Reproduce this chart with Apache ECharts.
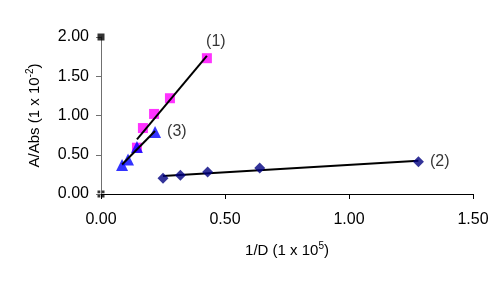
<!DOCTYPE html>
<html>
<head>
<meta charset="utf-8">
<script src="https://cdn.jsdelivr.net/npm/echarts@6/dist/echarts.min.js"></script>
<style>
    html, body { margin: 0; padding: 0; background: #fff; }
    #chart { width: 500px; height: 286px; }
</style>
</head>
<body>
<div id="chart"></div>
<script>
// 数据：1/D 与 A/Abs
const xTicks = [0, 0.5, 1.0, 1.5];
const yTicks = [0, 0.5, 1.0, 1.5, 2.0];

const s1X = [0.145, 0.169, 0.214, 0.278, 0.427];
const s1Y = [0.59, 0.84, 1.02, 1.22, 1.73];

const s2X = [0.25, 0.32, 0.43, 0.64, 1.28];
const s2Y = [0.20, 0.24, 0.28, 0.33, 0.41];

const s3X = [0.085, 0.109, 0.145, 0.218];
const s3Y = [0.37, 0.44, 0.60, 0.79];

const cornerX = [0, 0];
const cornerY = [2.0, 0];

// 最小二乘趋势线，两端取数据范围
function trend(xs, ys) {
    const n = xs.length;
    const mx = xs.reduce((a, b) => a + b, 0) / n;
    const my = ys.reduce((a, b) => a + b, 0) / n;
    let sxy = 0, sxx = 0;
    xs.forEach((x, i) => { sxy += (x - mx) * (ys[i] - my); sxx += (x - mx) * (x - mx); });
    const k = sxy / sxx, b = my - k * mx;
    const x0 = Math.min(...xs), x1 = Math.max(...xs);
    return [[x0, k * x0 + b], [x1, k * x1 + b]];
}
const pts = (xs, ys) => xs.map((x, i) => [x, ys[i]]);

const chart = echarts.init(document.getElementById('chart'));
const font = 'Liberation Sans, Arial, sans-serif';
const nameRich = {
    n: { fontSize: 15, fontFamily: font, color: '#000', verticalAlign: 'bottom', lineHeight: 18 },
    sup: { fontSize: 10, fontFamily: font, color: '#000', verticalAlign: 'bottom', lineHeight: 18, padding: [0, 0, 7, 0] }
};

const option = {
    animation: false,
    grid: { left: 101, right: 27, top: 37, bottom: 92 },
    xAxis: {
        type: 'value',
        min: 0, max: 1.5, interval: 0.5,
        name: '{n|1/D (1 x 10}{sup|5}{n|)}',
        nameLocation: 'middle',
        nameGap: 46,
        nameTextStyle: { color: '#000', fontSize: 15, fontFamily: font, rich: nameRich },
        axisLine: { lineStyle: { color: '#000', width: 1 } },
        axisTick: { show: true, length: 5, lineStyle: { color: '#000' } },
        axisLabel: { color: '#000', fontSize: 16, fontFamily: font, margin: 18, formatter: v => v.toFixed(2) },
        splitLine: { show: false }
    },
    yAxis: {
        type: 'value',
        min: 0, max: 2.0, interval: 0.5,
        name: '{n|A/Abs (1 x 10}{sup|-2}{n|)}',
        nameLocation: 'middle',
        nameGap: 59,
        nameRotate: 90,
        nameTextStyle: { color: '#000', fontSize: 15, fontFamily: font, rich: nameRich },
        axisLine: { show: true, lineStyle: { color: '#707070', width: 1 } },
        axisTick: { show: true, length: 5, lineStyle: { color: '#707070' } },
        axisLabel: { color: '#000', fontSize: 16, fontFamily: font, margin: 12, formatter: v => v.toFixed(2) },
        splitLine: { show: false }
    },
    series: [
        {
            type: 'line', data: trend(s1X, s1Y), symbol: 'none',
            lineStyle: { color: '#000', width: 2 }, z: 3
        },
        {
            type: 'line', data: trend(s2X, s2Y), symbol: 'none',
            lineStyle: { color: '#000', width: 2 }, z: 3
        },
        {
            type: 'line', data: trend(s3X, s3Y), symbol: 'none',
            lineStyle: { color: '#000', width: 2 }, z: 3
        },
        {
            type: 'scatter', data: pts(s1X, s1Y), symbol: 'rect', symbolSize: 10,
            itemStyle: { color: '#FF00FF' }, z: 2,
            label: {
                show: true, position: 'top', distance: 2,
                formatter: p => p.dataIndex === s1X.length - 1 ? '(1)' : '',
                color: '#000', fontSize: 16, fontFamily: font, offset: [9, -2]
            }
        },
        {
            type: 'scatter', data: pts(s2X, s2Y), symbol: 'diamond', symbolSize: 11,
            itemStyle: { color: '#000080' }, z: 4,
            label: {
                show: true, position: 'right', distance: 6,
                formatter: p => p.dataIndex === s2X.length - 1 ? '(2)' : '',
                color: '#000', fontSize: 16, fontFamily: font
            }
        },
        {
            type: 'scatter', data: pts(s3X, s3Y), symbol: 'triangle', symbolSize: 12,
            itemStyle: { color: '#0000FF' }, z: 2,
            label: {
                show: true, position: 'right', distance: 6,
                formatter: p => p.dataIndex === s3X.length - 1 ? '(3)' : '',
                color: '#000', fontSize: 16, fontFamily: font
            }
        },
        {
            type: 'scatter', data: [[cornerX[0], cornerY[0]]], z: 5,
            symbol: 'rect', symbolSize: 7,
            itemStyle: { color: '#000' }
        },
        {
            type: 'scatter', data: [[cornerX[1], cornerY[1]]], z: 5,
            symbol: 'path://M0,0h4v4h-4zM6,0h4v4h-4zM0,6h4v4h-4zM6,6h4v4h-4z',
            symbolSize: 7,
            itemStyle: { color: '#000' }
        }
    ]
};
chart.setOption(option);
</script>
</body>
</html>
